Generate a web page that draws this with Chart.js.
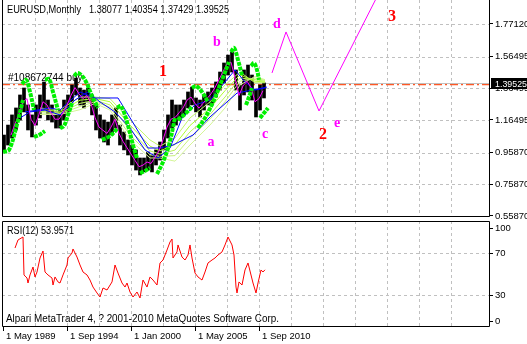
<!DOCTYPE html>
<html>
<head>
<meta charset="utf-8">
<script src="https://cdn.jsdelivr.net/npm/chart.js@4.4.0/dist/chart.umd.min.js"></script>
<style>
  html, body { margin: 0; padding: 0; background: #fff; }
  #wrap { position: relative; width: 527px; height: 344px; overflow: hidden; }
  canvas { position: absolute; left: 0; }
  #main { top: 0; }
  #rsi { top: 219px; }
</style>
</head>
<body>
<div id="wrap">
  <canvas id="main" width="527" height="219"></canvas>
  <canvas id="rsi" width="527" height="125"></canvas>
</div>
<script>
// month index 0 = 1 May 1989, one unit per month

// price range per 4-month block (high / low)
const priceHigh = [1.070, 1.133, 1.197, 1.241, 1.323, 1.367, 1.260, 1.197, 1.260, 1.323,
                   1.405, 1.291, 1.260, 1.216, 1.228, 1.291, 1.323, 1.386, 1.430, 1.367,
                   1.354, 1.367, 1.323, 1.260, 1.197, 1.165, 1.152, 1.197, 1.241, 1.133,
                   1.089, 1.039, 1.007, 0.976, 0.925, 0.925, 0.963, 0.944, 0.976, 1.026,
                   1.102, 1.197, 1.291, 1.260, 1.260, 1.291, 1.342, 1.373, 1.304, 1.291,
                   1.323, 1.342, 1.367, 1.405, 1.468, 1.525, 1.575, 1.594, 1.481, 1.386,
                   1.481, 1.512, 1.449, 1.354, 1.386, 1.399];
const priceLow  = [0.963, 1.007, 1.051, 1.102, 1.165, 1.216, 1.102, 1.058, 1.133, 1.178,
                   1.228, 1.165, 1.152, 1.114, 1.114, 1.165, 1.216, 1.279, 1.323, 1.260,
                   1.241, 1.279, 1.197, 1.102, 1.051, 1.026, 1.007, 1.070, 1.114, 1.007,
                   0.976, 0.944, 0.881, 0.849, 0.818, 0.837, 0.849, 0.837, 0.881, 0.912,
                   0.976, 1.051, 1.114, 1.133, 1.165, 1.197, 1.241, 1.260, 1.216, 1.184,
                   1.228, 1.260, 1.260, 1.310, 1.354, 1.399, 1.449, 1.468, 1.354, 1.228,
                   1.323, 1.342, 1.291, 1.184, 1.228, 1.304];

// fast moving average (magenta), every 4 months from month 8
const maValues = [1.07, 1.14, 1.20, 1.28, 1.30, 1.17, 1.13, 1.20, 1.28, 1.26,
                  1.21, 1.17, 1.17, 1.21, 1.26, 1.32, 1.37, 1.33, 1.30, 1.32,
                  1.27, 1.18, 1.12, 1.10, 1.08, 1.12, 1.17, 1.08, 1.03, 0.99,
                  0.95, 0.91, 0.87, 0.88, 0.90, 0.89, 0.93, 0.97, 1.04, 1.12,
                  1.17, 1.18, 1.21, 1.24, 1.29, 1.31, 1.27, 1.24, 1.27, 1.30,
                  1.33, 1.37, 1.42, 1.47, 1.52, 1.53, 1.43, 1.32, 1.38, 1.41,
                  1.37, 1.28, 1.30, 1.35];

const slowBlueMonths = [22, 47, 57, 77, 92, 115, 132, 145, 157, 170, 190, 207, 234, 264];
const slowBlueValues = [1.216, 1.241, 1.228, 1.342, 1.304, 1.304, 1.127, 0.988, 0.988, 1.007, 1.070, 1.184, 1.335, 1.373];

const fastBlueMonths = [17, 27, 42, 57, 72, 85, 97, 112, 127, 142, 155, 167, 179, 192, 207, 222, 232, 242, 252, 262];
const fastBlueValues = [1.178, 1.216, 1.228, 1.197, 1.291, 1.342, 1.279, 1.216, 1.114, 0.976,
                        0.925, 0.988, 1.178, 1.260, 1.291, 1.405, 1.481, 1.405, 1.354, 1.367];

// yellow-green fan of averages
const fanMonths = [37, 57, 77, 92, 107, 127, 147, 157, 172, 187, 207, 222, 237, 252, 262];
const fanA = [1.240, 1.230, 1.310, 1.310, 1.300, 1.165, 1.039, 1.000, 1.051, 1.178, 1.279, 1.386, 1.468, 1.400, 1.400];
const fanB = [1.230, 1.220, 1.290, 1.300, 1.280, 1.133, 1.000, 0.970, 1.010, 1.130, 1.240, 1.350, 1.450, 1.410, 1.405];
const fanC = [1.220, 1.210, 1.270, 1.290, 1.260, 1.102, 0.970, 0.950, 0.975, 1.090, 1.200, 1.310, 1.430, 1.420, 1.410];
const fanD = [1.210, 1.205, 1.250, 1.280, 1.245, 1.070, 0.945, 0.935, 0.940, 1.050, 1.170, 1.280, 1.410, 1.430, 1.415];
const fanE = [1.200, 1.200, 1.230, 1.270, 1.228, 1.039, 0.925, 0.925, 0.905, 1.007, 1.133, 1.241, 1.386, 1.440, 1.420];

// thick green arcs
const arcMonths = [
  [0, 6, 13, 20], [19, 23, 27, 31], [31, 36, 42], [42, 46, 50, 55], [57, 61, 65, 69],
  [71, 75, 82, 89, 95], [99, 107, 115], [114, 118, 124, 130, 134], [137, 142, 147],
  [154, 160, 166, 172], [175, 183, 189], [189, 193, 199, 205], [195, 202, 211, 219, 226],
  [228, 231, 235, 239], [243, 246, 249], [248, 251, 254, 256], [257, 261, 265]
];
const arcValues = [
  [0.963, 0.976, 1.114, 1.291], [1.392, 1.418, 1.342, 1.228], [1.058, 1.070, 1.095],
  [1.418, 1.424, 1.342, 1.228], [1.114, 1.127, 1.197, 1.272],
  [1.443, 1.462, 1.418, 1.317, 1.241], [1.039, 1.064, 1.114], [1.241, 1.253, 1.152, 1.007, 0.925],
  [0.830, 0.843, 0.862], [0.824, 0.900, 1.007, 1.178], [1.165, 1.209, 1.247],
  [1.367, 1.380, 1.342, 1.279], [1.114, 1.178, 1.291, 1.418, 1.531],
  [1.594, 1.620, 1.544, 1.449], [1.260, 1.310, 1.367], [1.506, 1.525, 1.481, 1.418],
  [1.178, 1.209, 1.241]
];

// projected wave path
const zigMonths = [269, 283, 316, 377];
const zigValues = [1.462, 1.721, 1.222, 1.980];

const waveText   = ['1', '2', '3', 'a', 'b', 'c', 'd', 'e'];
const waveMonths = [160, 320, 389, 208, 214, 262, 274, 334];
const waveValues = [1.468, 1.070, 1.815, 1.026, 1.658, 1.077, 1.771, 1.146];

const rsiReading = 53.9571;
const rsiMonths = [12, 15, 20, 21, 24, 25, 27, 30, 32, 34, 37, 40, 42, 45, 49, 50, 52, 55, 57, 60,
                   64, 65, 69, 70, 74, 77, 80, 84, 87, 90, 94, 97, 100, 104, 109, 112, 115, 119, 122, 124,
                   127, 130, 134, 137, 140, 144, 147, 150, 154, 157, 160, 164, 167, 169, 170, 174, 175, 179, 182, 185,
                   187, 189, 192, 195, 199, 202, 205, 209, 212, 215, 219, 222, 225, 229, 231, 233, 234, 236, 239, 242,
                   245, 246, 250, 253, 255, 258, 260, 262];
const rsiValues = [74.5, 82.1, 84.9, 49.1, 46.2, 41.5, 49.1, 56.6, 47.2, 51.9, 65.1, 71.7, 51.9, 49.1, 46.2, 39.6, 47.2, 42.5, 41.5, 49.1,
                   58.5, 65.1, 69.8, 73.6, 66.0, 58.5, 51.9, 49.1, 44.3, 37.7, 32.1, 28.3, 36.8, 34.9, 42.5, 58.5, 50.9, 41.5, 37.7, 41.5,
                   33.0, 28.3, 33.0, 27.4, 44.3, 37.7, 47.2, 44.3, 39.6, 60.4, 63.2, 72.6, 80.2, 83.0, 65.1, 70.8, 77.4, 66.0, 63.2, 67.9,
                   77.4, 65.1, 50.9, 47.2, 44.3, 51.9, 60.4, 63.2, 65.1, 67.9, 70.8, 77.4, 84.9, 77.4, 67.9, 37.7, 32.1, 42.5, 39.6, 53.8,
                   60.4, 56.6, 41.5, 32.1, 41.5, 53.8, 51.9, rsiReading];

const priceTicks = [0.5587, 0.7587, 0.9587, 1.16495, 1.36495, 1.56495, 1.7712];
const rsiLevels = [30, 70];
const dateLabels = ['1 May 1989', '1 Sep 1994', '1 Jan 2000', '1 May 2005', '1 Sep 2010'];
const dateLabelMonths = [0, 64, 128, 192, 256];
const bidPrice = 1.39525;
const orderPrice = 1.3915;
const ohlc = ['1.38077', '1.40354', '1.37429', '1.39525'];

// ---- helpers ----
const gridMonths = [];
for (let m = 32; m <= 448; m += 32) gridMonths.push(m);

const pts = (ms, vs) => ms.map((m, i) => ({ x: m, y: vs[i] }));
const binMonths = priceHigh.map((_, i) => 1 + i * 4);
const maMonths = maValues.map((_, i) => 8 + i * 4);

function fitText(ctx, text, x, y, width, font, color) {
  ctx.save();
  ctx.font = font;
  ctx.fillStyle = color;
  ctx.textAlign = 'left';
  ctx.textBaseline = 'middle';
  const w = ctx.measureText(text).width;
  ctx.translate(x, y);
  ctx.scale(width / w, 1);
  ctx.fillText(text, 0, 0);
  ctx.restore();
}

// dashed MT4-style grid, placed with the chart's own scales
function dashedGrid(chart, xs, ys) {
  const { ctx, chartArea: a, scales } = chart;
  ctx.save();
  ctx.strokeStyle = '#c0c0c0';
  ctx.lineWidth = 1;
  ctx.setLineDash([3, 3]);
  ctx.beginPath();
  xs.forEach(v => {
    const px = Math.round(scales.x.getPixelForValue(v)) + 0.5;
    ctx.moveTo(px, a.top);
    ctx.lineTo(px, a.bottom);
  });
  ys.forEach(v => {
    const py = Math.round(scales.y.getPixelForValue(v)) + 0.5;
    ctx.moveTo(a.left, py);
    ctx.lineTo(a.right, py);
  });
  ctx.stroke();
  ctx.restore();
}

function frame(ctx, a, withTop) {
  ctx.save();
  ctx.strokeStyle = '#000';
  ctx.lineWidth = 1;
  ctx.beginPath();
  ctx.moveTo(a.left + 0.5, withTop ? a.top + 0.5 : a.top);
  ctx.lineTo(a.left + 0.5, a.bottom - 0.5);
  ctx.lineTo(a.right - 0.5, a.bottom - 0.5);
  ctx.lineTo(a.right - 0.5, withTop ? a.top + 0.5 : a.top);
  if (withTop) ctx.lineTo(a.left + 0.5, a.top + 0.5);
  ctx.stroke();
  ctx.restore();
}

const FONT = '"Liberation Sans", Arial, sans-serif';
Chart.defaults.font.family = FONT;
Chart.defaults.color = '#000';

const line = (data, color, order, extra) => Object.assign({
  type: 'line', data: data, borderColor: color, borderWidth: 1,
  pointRadius: 0, tension: 0, fill: false, order: order
}, extra || {});

// ---- main price window ----
const mainDecor = {
  id: 'mainDecor',
  beforeDatasetsDraw(chart) {
    dashedGrid(chart, gridMonths, priceTicks);
    const ctx = chart.ctx;
    ctx.save();
    ctx.font = '10px ' + FONT;
    ctx.fillStyle = '#000';
    ctx.textBaseline = 'middle';
    ctx.fillText('#108672744 buy', 8, 78);
    ctx.restore();
  },
  afterDatasetsDraw(chart) {
    const ctx = chart.ctx, x = chart.scales.x, y = chart.scales.y;
    ctx.save();
    ctx.textAlign = 'center';
    ctx.textBaseline = 'middle';
    waveText.forEach((t, i) => {
      const digit = /\d/.test(t);
      ctx.font = digit ? 'bold 16px "Liberation Serif", serif' : 'bold 14px "Liberation Serif", serif';
      ctx.fillStyle = digit ? '#ff0000' : '#ff00ff';
      ctx.fillText(t, x.getPixelForValue(waveMonths[i]), y.getPixelForValue(waveValues[i]));
    });
    ctx.restore();
  },
  afterDraw(chart) {
    const ctx = chart.ctx, y = chart.scales.y, a = chart.chartArea;
    frame(ctx, a, false);
    const py = Math.round(y.getPixelForValue(bidPrice));
    ctx.save();
    ctx.fillStyle = '#000';
    ctx.fillRect(a.right + 1, py - 6, 40, 11);
    ctx.restore();
    fitText(ctx, bidPrice.toFixed(5), a.right + 5, py, 32, '9.5px ' + FONT, '#fff');
    fitText(ctx, 'EURUSD,Monthly', 7, 10, 74, '10px ' + FONT, '#000');
    fitText(ctx, ohlc.join(' '), 89, 10, 140, '10px ' + FONT, '#000');
  }
};

const arcSets = arcMonths.map((ms, i) => line(pts(ms, arcValues[i]), '#00f000', 5, {
  borderWidth: 4, borderDash: [4, 1], tension: 0.35
}));

new Chart(document.getElementById('main'), {
  type: 'line',
  data: {
    datasets: [
      line([{ x: -1, y: orderPrice }, { x: 487, y: orderPrice }], '#ff5522', 20, { borderWidth: 2, borderDash: [8, 3, 2, 3] }),
      line([{ x: -1, y: bidPrice }, { x: 487, y: bidPrice }], '#c0c0c0', 19),
      {
        type: 'bar',
        data: binMonths.map((m, i) => ({ x: m, y: [priceLow[i], priceHigh[i]] })),
        backgroundColor: '#000', borderWidth: 0, barThickness: 3, grouped: false, order: 15
      },
      line(pts(fanMonths, fanE), '#d4f596', 13),
      line(pts(fanMonths, fanD), '#c6f27a', 12),
      line(pts(fanMonths, fanC), '#b8f35a', 11),
      line(pts(fanMonths, fanB), '#adff2f', 10),
      line(pts(fanMonths, fanA), '#c0f868', 10),
      line(pts(slowBlueMonths, slowBlueValues), '#0000ff', 9),
      line(pts(fastBlueMonths, fastBlueValues), '#0000ff', 8),
      line(pts(maMonths, maValues), '#ff00ff', 7),
      ...arcSets,
      line(pts(zigMonths, zigValues), '#ff00ff', 3)
    ]
  },
  options: {
    responsive: false, animation: false, events: [],
    layout: { padding: { left: 2, top: 0, right: 0, bottom: 0 } },
    plugins: { legend: { display: false }, tooltip: { enabled: false } },
    scales: {
      x: {
        type: 'linear', min: -1, max: 487, offset: false,
        ticks: { display: false },
        grid: { display: false },
        border: { display: false },
        afterFit: s => { s.height = 2; s.paddingLeft = 0; s.paddingRight = 0; }
      },
      y: {
        type: 'linear', position: 'right', min: 0.55238, max: 1.92276,
        afterBuildTicks: s => { s.ticks = priceTicks.map(v => ({ value: v })); },
        ticks: { callback: v => v.toFixed(5), font: { size: 9.5 }, color: '#000', padding: 2, autoSkip: false },
        grid: { drawOnChartArea: false, color: '#000', tickLength: 3 },
        border: { display: false },
        afterFit: s => { s.width = 37; s.paddingTop = 0; s.paddingBottom = 0; }
      }
    }
  },
  plugins: [mainDecor]
});

// ---- RSI window ----
const rsiDecor = {
  id: 'rsiDecor',
  beforeDatasetsDraw(chart) {
    dashedGrid(chart, gridMonths, rsiLevels);
  },
  afterDraw(chart) {
    const ctx = chart.ctx, y = chart.scales.y, a = chart.chartArea;
    frame(ctx, a, true);
    fitText(ctx, 'RSI(12) ' + rsiReading.toFixed(4), 7, 12, 67, '10px ' + FONT, '#000');
    fitText(ctx, 'Alpari MetaTrader 4, ? 2001-2010 MetaQuotes Software Corp.', 6, 100, 273, '10px ' + FONT, '#000');
    ctx.save();
    ctx.font = '9.5px ' + FONT;
    ctx.fillStyle = '#000';
    ctx.textBaseline = 'middle';
    ctx.strokeStyle = '#000';
    [[100, 7], [70, 0], [30, 0], [0, -6]].forEach(([v, off]) => {
      const py = Math.round(y.getPixelForValue(v)) + off;
      ctx.fillText(String(v), a.right + 5, py);
      ctx.beginPath();
      ctx.moveTo(a.right, py + 0.5);
      ctx.lineTo(a.right + 3, py + 0.5);
      ctx.stroke();
    });
    ctx.restore();
  }
};

new Chart(document.getElementById('rsi'), {
  type: 'line',
  data: {
    datasets: [line(pts(rsiMonths, rsiValues), '#ff0000', 1)]
  },
  options: {
    responsive: false, animation: false, events: [],
    layout: { padding: { left: 2, top: 2, right: 0, bottom: 0 } },
    plugins: { legend: { display: false }, tooltip: { enabled: false } },
    scales: {
      x: {
        type: 'linear', min: -1, max: 487, offset: false,
        afterBuildTicks: s => { s.ticks = dateLabelMonths.map(v => ({ value: v })); },
        ticks: {
          autoSkip: false, maxRotation: 0, align: 'start', labelOffset: 3, padding: 0,
          font: { size: 9.5 }, color: '#000',
          callback: v => dateLabels[dateLabelMonths.indexOf(v)]
        },
        grid: { drawOnChartArea: false, color: '#000', tickLength: 4, offset: false },
        border: { display: false },
        afterFit: s => { s.height = 17; s.paddingLeft = 0; s.paddingRight = 0; }
      },
      y: {
        type: 'linear', position: 'right', min: 0, max: 100,
        ticks: { display: false },
        grid: { display: false },
        border: { display: false },
        afterFit: s => { s.width = 37; s.paddingTop = 0; s.paddingBottom = 0; }
      }
    }
  },
  plugins: [rsiDecor]
});
</script>
</body>
</html>
